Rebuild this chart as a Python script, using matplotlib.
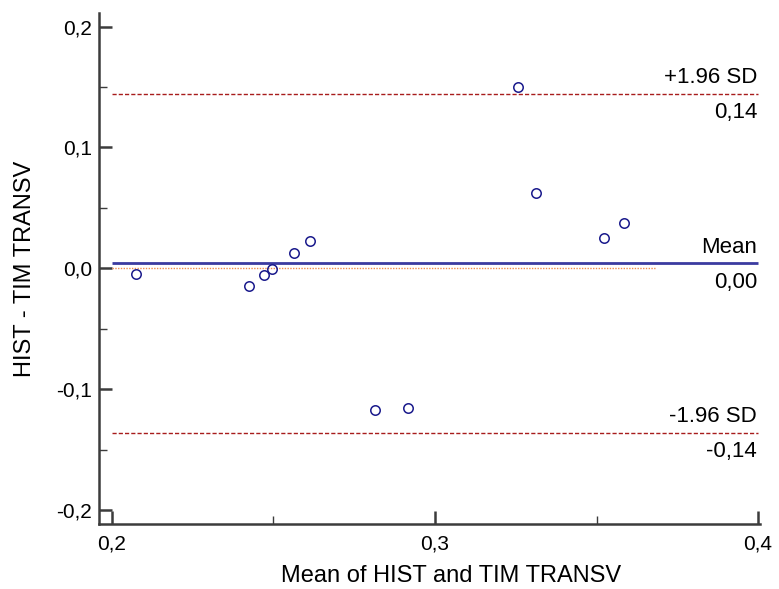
import numpy as np
import matplotlib
matplotlib.use("Agg")
import matplotlib.pyplot as plt
from matplotlib.ticker import FuncFormatter, MultipleLocator

plt.rcParams['font.family'] = ['Liberation Sans', 'DejaVu Sans']

# Mean of the two methods (x) and their difference (y)
mean_hist_tim = [0.2073, 0.2425, 0.2471, 0.2496, 0.2563, 0.2612,
                 0.2814, 0.2917, 0.3258, 0.3312, 0.3524, 0.3586]
diff_hist_tim = [-0.0047, -0.0146, -0.0055, -0.0008, 0.0124, 0.0228,
                 -0.1173, -0.1159, 0.1500, 0.0626, 0.0253, 0.0375]

x_label = "Mean of HIST and TIM TRANSV"
y_label = "HIST - TIM TRANSV"

x = np.array(mean_hist_tim)
d = np.array(diff_hist_tim)
bias = d.mean()
sd = d.std(ddof=1)
upper = bias + 1.96 * sd
lower = bias - 1.96 * sd

W, H = 779, 589
fig = plt.figure(figsize=(W / 100, H / 100), dpi=100)
ax = fig.add_axes([99 / W, 1 - 524 / H, (760 - 99) / W, (524 - 13) / H])

ax.set_xlim(0.196, 0.4006)
ax.set_ylim(-0.2116, 0.2113)

comma = FuncFormatter(lambda v, p: f"{v:.1f}".replace(".", ",").replace("-0,0", "0,0"))
ax.xaxis.set_major_locator(MultipleLocator(0.1))
ax.xaxis.set_minor_locator(MultipleLocator(0.05))
ax.yaxis.set_major_locator(MultipleLocator(0.1))
ax.yaxis.set_minor_locator(MultipleLocator(0.05))
ax.xaxis.set_major_formatter(comma)
ax.yaxis.set_major_formatter(comma)

for s in ("top", "right"):
    ax.spines[s].set_visible(False)
for s in ("left", "bottom"):
    ax.spines[s].set_color("#3c3c3c")
    ax.spines[s].set_linewidth(1.8)

ax.tick_params(which="major", direction="in", length=9.4, width=1.8,
               color="#3c3c3c", labelsize=15, pad=5)
ax.tick_params(which="minor", direction="in", length=5.6, width=1.0,
               color="#3c3c3c")
ax.tick_params(axis="x", which="major", pad=7.5)

# reference line at zero difference
ax.plot([0.2, 0.368], [0, 0], color="#f08a4b", lw=1.0, ls=(0, (1, 1)))
# mean difference and limits of agreement
ax.plot([0.2, 0.4], [bias, bias], color="#3b3ba0", lw=2.0, solid_capstyle="butt")
ax.plot([0.2, 0.4], [upper, upper], color="#a81c1c", lw=1.0, ls=(0, (3, 1.5)))
ax.plot([0.2, 0.4], [lower, lower], color="#a81c1c", lw=1.0, ls=(0, (3, 1.5)))

ax.plot(x, d, "o", ms=6.8, mfc="none", mec="#1a1a8c", mew=1.1, zorder=5)

fmt = lambda v: f"{v:.2f}".replace(".", ",").replace("-0,00", "0,00")
xr = 0.3997
for yv, top in ((upper, "+1.96 SD"), (bias, "Mean"), (lower, "-1.96 SD")):
    ax.text(xr, yv + 0.0044, top, ha="right", va="bottom", fontsize=16)
    ax.text(xr, yv - 0.0072, fmt(yv), ha="right", va="top", fontsize=16)

ax.set_xlabel(x_label, fontsize=17)
ax.set_ylabel(y_label, fontsize=17)
ax.xaxis.set_label_coords((451 - 99) / 661, -41 / 511)
ax.yaxis.set_label_coords(-63 / 661, 0.5)

fig.savefig("out.png", dpi=100)
